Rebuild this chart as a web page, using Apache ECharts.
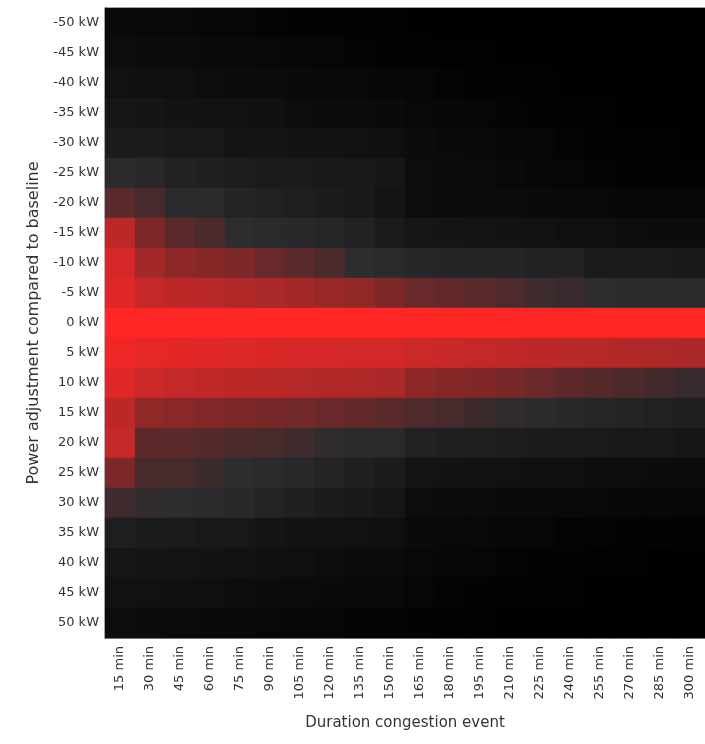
<!DOCTYPE html>
<html lang="en">
<head>
    <meta charset="UTF-8">
    <title>Power adjustment heatmap</title>
    <script src="https://cdn.jsdelivr.net/npm/echarts@6/dist/echarts.min.js"></script>
    <style>
        html, body { margin: 0; padding: 0; background: #fff; }
        #chart { width: 705px; height: 744px; }
    </style>
</head>
<body>
<div id="chart"></div>
<script>
    // categories
    var durations = ['15 min', '30 min', '45 min', '60 min', '75 min', '90 min', '105 min', '120 min', '135 min', '150 min',
        '165 min', '180 min', '195 min', '210 min', '225 min', '240 min', '255 min', '270 min', '285 min', '300 min'];
    var powers = ['-50 kW', '-45 kW', '-40 kW', '-35 kW', '-30 kW', '-25 kW', '-20 kW', '-15 kW', '-10 kW', '-5 kW',
        '0 kW', '5 kW', '10 kW', '15 kW', '20 kW', '25 kW', '30 kW', '35 kW', '40 kW', '45 kW', '50 kW'];

    // intensity per power row (0..100), one value per duration
    var cellValues = [
        [9, 8, 7, 6, 5, 4, 3, 3, 2, 2, 1, 1, 1, 0, 0, 0, 0, 0, 0, 0],                 // -50
        [12, 11, 10, 9, 8, 7, 6, 5, 4, 3, 3, 2, 2, 1, 1, 1, 0, 0, 0, 0],              // -45
        [15, 14, 13, 12, 11, 10, 9, 8, 7, 6, 5, 4, 3, 2, 2, 1, 1, 1, 0, 0],           // -40
        [20, 19, 17, 16, 15, 14, 12, 11, 10, 9, 7, 6, 5, 4, 3, 2, 2, 1, 1, 1],        // -35
        [25, 24, 22, 21, 19, 18, 17, 16, 15, 13, 11, 9, 8, 6, 5, 4, 3, 2, 2, 1],      // -30
        [37, 34, 30, 28, 26, 24, 23, 22, 21, 20, 12, 11, 10, 8, 6, 5, 4, 3, 2, 2],    // -25
        [53, 48, 37, 36, 31, 29, 27, 25, 22, 18, 12, 11, 11, 10, 9, 8, 7, 6, 6, 5],   // -20
        [80, 62, 53, 49, 38, 36, 35, 33, 30, 24, 20, 19, 18, 17, 16, 14, 13, 12, 11, 11], // -15
        [87, 73, 67, 65, 62, 57, 53, 49, 38, 36, 33, 32, 32, 31, 30, 30, 24, 23, 23, 22], // -10
        [90, 82, 80, 79, 77, 75, 73, 70, 68, 62, 57, 55, 53, 50, 44, 42, 38, 37, 37, 36], // -5
        [100, 100, 100, 100, 100, 100, 100, 100, 100, 100, 100, 100, 100, 100, 100, 100, 100, 100, 100, 100], // 0
        [95, 92, 91, 90, 89, 88, 87, 87, 86, 86, 84, 83, 82, 81, 80, 79, 78, 77, 76, 75], // 5
        [90, 84, 82, 81, 80, 79, 78, 77, 76, 75, 67, 65, 63, 61, 57, 54, 52, 49, 46, 42], // 10
        [80, 68, 66, 64, 62, 61, 59, 57, 55, 53, 50, 47, 43, 40, 37, 35, 33, 31, 29, 27], // 15
        [82, 54, 53, 52, 49, 47, 44, 39, 37, 36, 30, 28, 27, 26, 25, 24, 23, 22, 21, 20], // 20
        [62, 48, 47, 43, 38, 36, 34, 31, 28, 25, 18, 17, 16, 15, 14, 13, 12, 12, 11, 10], // 25
        [44, 40, 38, 37, 34, 31, 28, 25, 22, 20, 12, 11, 10, 9, 8, 8, 7, 6, 6, 5],    // 30
        [27, 25, 24, 22, 21, 19, 17, 16, 15, 13, 9, 8, 7, 6, 5, 4, 4, 3, 3, 2],       // 35
        [20, 19, 18, 17, 16, 14, 13, 12, 11, 10, 7, 6, 5, 4, 3, 3, 2, 2, 1, 1],       // 40
        [16, 15, 14, 13, 12, 11, 10, 9, 8, 7, 5, 4, 3, 3, 2, 2, 1, 1, 1, 0],          // 45
        [12, 11, 10, 9, 8, 7, 6, 5, 4, 4, 3, 2, 2, 1, 1, 1, 0, 0, 0, 0]               // 50
    ];

    var data = [];
    for (var r = 0; r < powers.length; r++) {
        for (var c = 0; c < durations.length; c++) {
            data.push([c, r, cellValues[r][c]]);
        }
    }

    var myChart = echarts.init(document.getElementById('chart'));
    var option = {
        backgroundColor: '#ffffff',
        animation: false,
        textStyle: { fontFamily: 'DejaVu Sans, sans-serif' },
        // 600 x 630 so every cell is a whole 30 x 30 px (no seams)
        grid: {
            left: 105,
            right: 0,
            top: 8,
            bottom: 106,
            show: true,
            borderColor: '#b0b0b0',
            borderWidth: 1
        },
        xAxis: {
            type: 'category',
            data: durations,
            name: 'Duration congestion event',
            nameLocation: 'middle',
            nameGap: 78,
            nameTextStyle: { fontSize: 15, color: '#333' },
            axisLine: { show: true, lineStyle: { color: '#999' } },
            axisTick: { show: false },
            axisLabel: { rotate: 90, fontSize: 13, color: '#333', margin: 8, interval: 0 },
            splitLine: { show: false },
            splitArea: { show: false }
        },
        yAxis: {
            type: 'category',
            data: powers,
            inverse: true,
            name: 'Power adjustment compared to baseline',
            nameLocation: 'middle',
            nameGap: 63,
            nameTextStyle: { fontSize: 16, color: '#333' },
            axisLine: { show: true, lineStyle: { color: '#111' } },
            axisTick: { show: false },
            axisLabel: { fontSize: 13, color: '#333', margin: 6, interval: 0 },
            splitLine: { show: false },
            splitArea: { show: false }
        },
        visualMap: {
            show: false,
            min: 0,
            max: 100,
            calculable: false,
            inRange: {
                color: ['#000000', '#0e0e11', '#1c1c1f', '#2c2c2e', '#4e2a2c', '#7e2828', '#aa2828', '#d82828', '#ff2626']
            }
        },
        series: [{
            type: 'heatmap',
            data: data,
            itemStyle: { borderWidth: 0 },
            emphasis: { disabled: true }
        }]
    };
    myChart.setOption(option);
</script>
</body>
</html>
